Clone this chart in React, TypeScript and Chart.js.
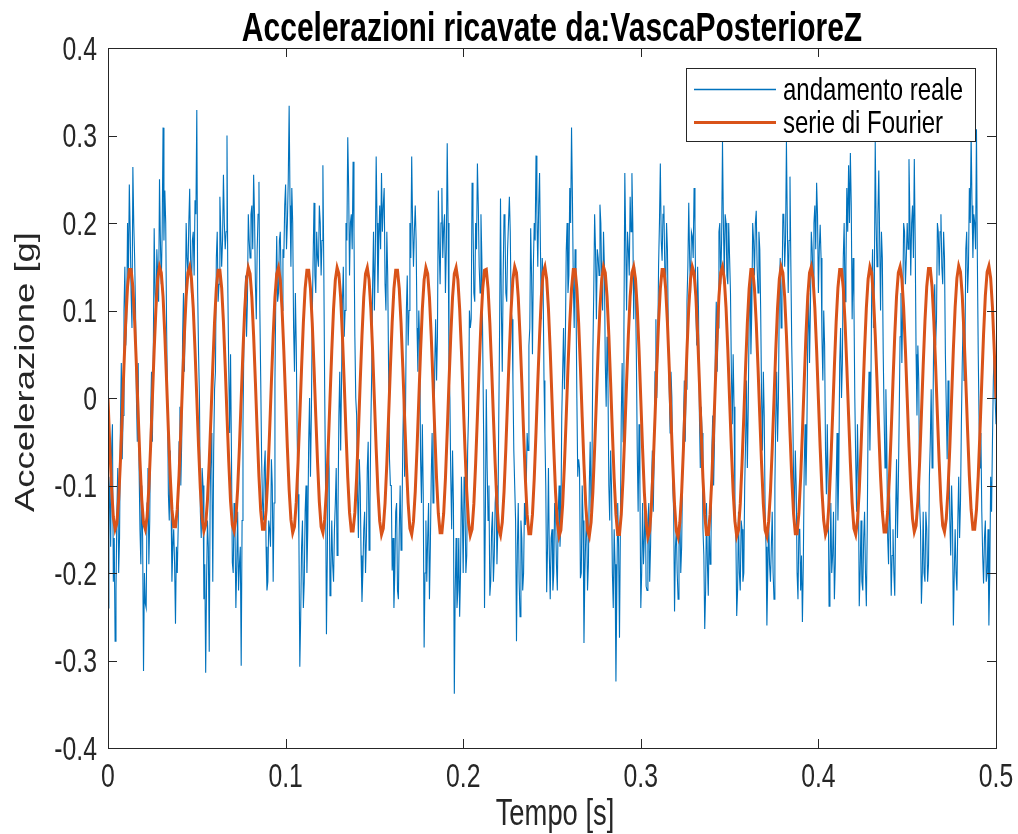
import { useEffect, useRef } from "react";
import { Chart, registerables } from "chart.js";

Chart.register(...registerables);

// ---- data ----
const TITLE = "Accelerazioni ricavate da:VascaPosterioreZ";
const X_LABEL = "Tempo [s]";
const Y_LABEL = "Accelerazione [g]";
const SERIES_NAMES = ["andamento reale", "serie di Fourier"];
const REAL_SAMPLE_PERIOD_S = 0.0005;
const FOURIER_SAMPLE_PERIOD_S = 0.001;
const X_RANGE = [0, 0.5];
const Y_RANGE = [-0.4, 0.4];
const X_STEP = 0.1;
const Y_STEP = 0.1;

// measured acceleration (blue), one value per sample
const REAL_VALUES = [
  -0.24, -0.09, -0.11, -0.17, -0.06, -0.03, -0.21, -0.16, -0.278, -0.22,
  -0.13, -0.08, -0.2, -0.16, -0.03, 0.04, -0.07, -0.02, 0.1, 0.15,
  0.06, 0.09, 0.2, 0.14, 0.244, 0.19, 0.12, 0.08, 0.264, 0.2,
  0.16, 0.1, 0.0, -0.05, 0.04, -0.08, -0.15, -0.19, -0.1, -0.16,
  -0.312, -0.2, -0.235, -0.24, -0.12, -0.08, -0.19, -0.14, -0.02, 0.03,
  -0.05, 0.05, 0.194, 0.12, 0.09, 0.17, 0.14, 0.11, 0.25, 0.18,
  0.13, 0.19, 0.309, 0.18, 0.237, 0.2, 0.08, 0.0, -0.11, -0.14,
  -0.06, -0.12, -0.21, -0.17, -0.15, -0.19, -0.258, -0.17, -0.2, -0.15,
  -0.05, -0.01, -0.1, -0.05, 0.07, 0.12, 0.03, 0.09, 0.2, 0.16,
  0.14, 0.2, 0.239, 0.16, 0.12, 0.18, 0.19, 0.14, 0.226, 0.21,
  0.329, 0.12, 0.05, 0.0, -0.13, -0.16, -0.08, -0.1, -0.23, -0.19,
  -0.314, -0.21, -0.14, -0.17, -0.29, -0.12, -0.04, -0.08, -0.21, -0.06,
  0.01, 0.03, 0.16, 0.19, 0.11, 0.13, 0.23, 0.19, 0.15, 0.18,
  0.255, 0.2, 0.17, 0.19, 0.3, 0.12, 0.03, -0.04, 0.05, -0.06,
  -0.188, -0.2, -0.12, -0.15, -0.24, -0.19, -0.13, -0.22, -0.19, -0.17,
  -0.306, -0.14, -0.03, 0.06, 0.11, 0.14, 0.07, 0.11, 0.21, 0.18,
  0.16, 0.21, 0.22, 0.17, 0.255, 0.21, 0.13, 0.09, 0.17, 0.21,
  0.247, 0.1, 0.02, -0.07, -0.12, -0.14, -0.08, -0.06, -0.17, -0.22,
  -0.21, -0.14, -0.15, -0.17, -0.07, -0.1, -0.21, -0.12, 0.02, 0.12,
  0.185, 0.11, 0.12, 0.18, 0.19, 0.13, 0.1, 0.17, 0.16, 0.22,
  0.244, 0.17, 0.2, 0.25, 0.334, 0.22, 0.15, 0.24, 0.2, 0.08,
  0.03, 0.12, 0.06, -0.04, -0.11, -0.16, -0.307, -0.25, -0.17, -0.14,
  -0.24, -0.21, -0.13, -0.1, -0.2, -0.15, -0.05, 0.0, -0.09, -0.02,
  0.09, 0.16, 0.223, 0.14, 0.12, 0.19, 0.16, 0.15, 0.22, 0.2,
  0.14, 0.18, 0.266, 0.15, 0.01, -0.1, -0.27, -0.18, -0.05, -0.08,
  -0.226, -0.2, -0.14, -0.19, -0.21, -0.15, -0.12, -0.08, -0.18, -0.13,
  -0.02, 0.03, -0.06, 0.02, 0.11, 0.15, 0.07, 0.1, 0.2, 0.18,
  0.298, 0.24, 0.14, 0.2, 0.21, 0.17, 0.27, 0.19, 0.07, 0.0,
  -0.02, -0.11, -0.16, -0.07, -0.1, -0.18, -0.233, -0.2, -0.15, -0.13,
  -0.2, -0.16, -0.08, -0.05, -0.174, -0.12, -0.03, 0.03, 0.13, 0.19,
  0.1, 0.16, 0.276, 0.2, 0.12, 0.18, 0.22, 0.17, 0.257, 0.19,
  0.22, 0.24, 0.13, 0.1, 0.19, 0.14, 0.03, -0.07, -0.1, -0.1,
  -0.197, -0.16, -0.24, -0.2, -0.13, -0.12, -0.22, -0.23, -0.15, -0.1,
  -0.174, -0.14, -0.05, 0.01, -0.09, -0.02, 0.1, 0.14, 0.06, 0.1,
  0.2, 0.16, 0.276, 0.2, 0.15, 0.19, 0.22, 0.18, 0.08, 0.03,
  0.1, 0.06, -0.07, -0.12, -0.03, -0.11, -0.285, -0.2, -0.14, -0.21,
  -0.16, -0.12, -0.23, -0.17, -0.09, -0.04, -0.12, -0.05, 0.04, 0.09,
  0.02, 0.07, 0.237, 0.17, 0.13, 0.2, 0.24, 0.16, 0.194, 0.21,
  0.12, 0.17, 0.291, 0.2, 0.03, 0.0, -0.09, -0.15, -0.06, -0.12,
  -0.338, -0.22, -0.16, -0.24, -0.22, -0.16, -0.25, -0.2, -0.09, -0.13,
  -0.2, -0.09, -0.12, -0.2, -0.18, -0.06, -0.02, 0.1, 0.08, 0.09,
  0.246, 0.21, 0.12, 0.11, 0.2, 0.17, 0.268, 0.22, 0.15, 0.12,
  0.21, 0.16, 0.06, -0.04, -0.24, -0.13, 0.01, -0.08, -0.14, -0.1,
  -0.226, -0.21, -0.15, -0.13, -0.21, -0.18, -0.12, -0.1, -0.19, -0.15,
  -0.03, 0.08, 0.228, 0.1, 0.03, 0.14, 0.21, 0.2, 0.12, 0.11,
  0.17, 0.2, 0.23, 0.19, 0.1, 0.09, 0.02, -0.06, -0.1, -0.14,
  -0.278, -0.17, -0.12, -0.21, -0.25, -0.14, -0.16, -0.22, -0.2, -0.12,
  -0.145, -0.1, -0.04, -0.06, 0.06, 0.08, 0.194, 0.14, 0.05, 0.15,
  0.2, 0.18, 0.277, 0.21, 0.15, 0.22, 0.257, 0.17, 0.09, 0.16,
  0.13, 0.02, -0.04, -0.1, -0.222, -0.17, -0.08, -0.18, -0.23, -0.16,
  -0.15, -0.22, -0.2, -0.12, -0.13, -0.19, -0.22, -0.13, -0.1, -0.17,
  -0.14, -0.02, 0.03, 0.08, 0.01, 0.06, 0.167, 0.2, 0.12, 0.14,
  0.24, 0.2, 0.309, 0.23, 0.13, 0.08, 0.17, 0.12, 0.0, -0.09,
  -0.07, -0.08, -0.206, -0.2, -0.1, -0.14, -0.28, -0.2, -0.16, -0.13,
  -0.22, -0.19, -0.1, -0.05, -0.13, -0.08, 0.05, 0.12, 0.21, 0.17,
  0.09, 0.17, 0.16, 0.14, 0.221, 0.2, 0.13, 0.1, 0.19, 0.15,
  0.04, -0.01, 0.07, 0.02, -0.1, -0.14, -0.06, -0.1, -0.2, -0.24,
  -0.15, -0.19, -0.324, -0.22, -0.12, -0.17, -0.274, -0.15, -0.02, 0.04,
  -0.05, 0.08, 0.257, 0.18, 0.1, 0.19, 0.17, 0.14, 0.23, 0.19,
  0.257, 0.2, 0.09, 0.15, 0.12, 0.05, -0.06, -0.13, -0.03, -0.1,
  -0.24, -0.2, -0.12, -0.19, -0.16, -0.11, -0.215, -0.22, -0.14, -0.12,
  -0.21, -0.17, -0.1, -0.06, -0.13, -0.07, 0.03, 0.09, 0.0, 0.05,
  0.15, 0.2, 0.268, 0.18, 0.157, 0.21, 0.22, 0.15, 0.12, 0.2,
  0.17, 0.07, 0.01, -0.04, 0.03, 0.0, -0.1, -0.13, -0.244, -0.17,
  -0.15, -0.2, -0.23, -0.17, -0.13, -0.2, -0.17, -0.09, -0.03, 0.02,
  -0.05, 0.01, 0.11, 0.15, 0.223, 0.16, 0.12, 0.19, 0.185, 0.16,
  0.24, 0.2, 0.1, 0.06, 0.15, 0.1, -0.02, -0.08, -0.01, -0.04,
  -0.15, -0.18, -0.264, -0.22, -0.12, -0.19, -0.226, -0.14, -0.19, -0.17,
  -0.06, -0.02, -0.1, -0.05, 0.06, 0.11, 0.03, 0.08, 0.19, 0.2,
  0.13, 0.18, 0.293, 0.2, 0.14, 0.21, 0.2, 0.14, 0.13, 0.2,
  0.16, 0.12, 0.03, -0.03, 0.05, -0.01, -0.12, -0.15, -0.249, -0.22,
  -0.13, -0.2, -0.22, -0.14, -0.15, -0.21, -0.2, -0.1, -0.05, 0.02,
  -0.08, -0.01, 0.09, 0.14, 0.05, 0.1, 0.2, 0.18, 0.14, 0.2,
  0.214, 0.15, 0.12, 0.19, 0.17, 0.1, 0.0, -0.06, 0.03, -0.02,
  -0.13, -0.17, -0.26, -0.2, -0.14, -0.19, -0.21, -0.17, -0.13, -0.2,
  -0.23, -0.1, -0.02, 0.03, -0.05, 0.0, 0.12, 0.16, 0.08, 0.12,
  0.21, 0.21, 0.15, 0.18, 0.293, 0.2, 0.12, 0.18, 0.253, 0.15,
  0.06, 0.0, -0.09, -0.14, -0.06, -0.1, -0.2, -0.23, -0.15, -0.15,
  -0.22, -0.18, -0.256, -0.19, -0.08, -0.03, -0.1, -0.04, 0.07, 0.12,
  0.04, 0.1, 0.19, 0.17, 0.13, 0.2, 0.22, 0.17, 0.246, 0.21,
  0.12, 0.17, 0.198, 0.16, 0.07, 0.02, 0.1, 0.06, -0.06, -0.11,
  -0.03, -0.1, -0.238, -0.2, -0.12, -0.2, -0.18, -0.13, -0.23, -0.19,
  -0.1, -0.04, -0.14, -0.08, 0.04, 0.08, 0.0, 0.04, 0.16, 0.2,
  0.11, 0.15, 0.24, 0.19, 0.266, 0.2, 0.28, 0.22, 0.09, 0.16,
  0.11, 0.0, -0.07, -0.13, -0.03, -0.09, -0.238, -0.2, -0.14, -0.21,
  -0.22, -0.16, -0.13, -0.2, -0.238, -0.15, -0.02, 0.03, -0.06, 0.0,
  0.12, 0.17, 0.08, 0.13, 0.293, 0.2, 0.15, 0.21, 0.26, 0.18,
  0.1, 0.19, 0.16, 0.05, -0.02, -0.08, 0.01, -0.05, -0.16, -0.19,
  -0.1, -0.15, -0.226, -0.18, -0.15, -0.2, -0.226, -0.13, -0.07, -0.16,
  -0.1, -0.02, 0.07, 0.12, 0.04, 0.11, 0.2, 0.19, 0.13, 0.16,
  0.2, 0.17, 0.273, 0.21, 0.14, 0.2, 0.22, 0.16, 0.273, 0.18,
  0.05, -0.02, 0.06, 0.02, -0.12, -0.15, -0.235, -0.2, -0.13, -0.2,
  -0.21, -0.13, -0.15, -0.21, -0.19, -0.09, -0.05, 0.01, -0.08, -0.02,
  0.09, 0.13, 0.06, 0.09, 0.2, 0.19, 0.14, 0.19, 0.21, 0.15,
  0.13, 0.19, 0.16, 0.05, -0.01, -0.07, 0.02, -0.03, -0.14, -0.18,
  -0.1, -0.14, -0.26, -0.2, -0.15, -0.2, -0.22, -0.14, -0.09, -0.16,
  -0.12, -0.03, 0.04, 0.09, 0.02, 0.05, 0.17, 0.19, 0.12, 0.15,
  0.24, 0.2, 0.302, 0.22, 0.16, 0.21, 0.2, 0.17, 0.307, 0.16,
  0.05, -0.03, -0.08, -0.04, -0.13, -0.18, -0.212, -0.16, -0.14, -0.21,
  -0.2, -0.15, -0.26, -0.2, -0.09, -0.13, -0.05, 0.02, 0.06, 0.0,
  -0.03,
];

// Fourier series reconstruction (orange), one value per sample
const FOURIER_VALUES = [
  0, -0.055, -0.103, -0.136, -0.15, -0.143, -0.116, -0.072, -0.019, 0.037,
  0.088, 0.127, 0.147, 0.147, 0.127, 0.088, 0.037, -0.019, -0.072, -0.116,
  -0.143, -0.15, -0.136, -0.103, -0.055, 0, 0.055, 0.103, 0.136, 0.15,
  0.143, 0.116, 0.072, 0.019, -0.037, -0.088, -0.127, -0.147, -0.147, -0.127,
  -0.088, -0.037, 0.019, 0.072, 0.116, 0.143, 0.15, 0.136, 0.103, 0.055,
  0, -0.056, -0.104, -0.138, -0.152, -0.145, -0.117, -0.073, -0.02, 0.036,
  0.087, 0.126, 0.146, 0.146, 0.126, 0.087, 0.036, -0.02, -0.073, -0.118,
  -0.145, -0.152, -0.138, -0.104, -0.056, -0.001, 0.054, 0.102, 0.135, 0.149,
  0.142, 0.115, 0.071, 0.018, -0.038, -0.09, -0.129, -0.15, -0.15, -0.129,
  -0.09, -0.038, 0.018, 0.071, 0.115, 0.142, 0.149, 0.135, 0.102, 0.054,
  -0.001, -0.057, -0.105, -0.139, -0.154, -0.147, -0.119, -0.074, -0.021, 0.035,
  0.086, 0.125, 0.146, 0.146, 0.125, 0.086, 0.035, -0.021, -0.074, -0.119,
  -0.147, -0.154, -0.139, -0.105, -0.057, -0.001, 0.054, 0.102, 0.135, 0.149,
  0.142, 0.115, 0.071, 0.018, -0.039, -0.091, -0.131, -0.152, -0.152, -0.131,
  -0.091, -0.039, 0.018, 0.071, 0.115, 0.142, 0.149, 0.135, 0.102, 0.054,
  -0.002, -0.058, -0.107, -0.141, -0.156, -0.149, -0.12, -0.075, -0.021, 0.035,
  0.086, 0.125, 0.146, 0.146, 0.125, 0.086, 0.035, -0.021, -0.075, -0.12,
  -0.149, -0.156, -0.141, -0.107, -0.058, -0.002, 0.054, 0.102, 0.135, 0.149,
  0.142, 0.115, 0.071, 0.018, -0.039, -0.092, -0.132, -0.154, -0.154, -0.132,
  -0.092, -0.039, 0.018, 0.071, 0.115, 0.142, 0.149, 0.135, 0.102, 0.054,
  -0.002, -0.058, -0.107, -0.142, -0.157, -0.15, -0.121, -0.075, -0.021, 0.035,
  0.086, 0.125, 0.146, 0.147, 0.125, 0.086, 0.035, -0.021, -0.075, -0.121,
  -0.15, -0.157, -0.142, -0.107, -0.058, -0.002, 0.054, 0.102, 0.136, 0.15,
  0.143, 0.115, 0.071, 0.018, -0.039, -0.092, -0.133, -0.155, -0.155, -0.133,
  -0.092, -0.039, 0.018, 0.071, 0.116, 0.143, 0.15, 0.136, 0.102, 0.054,
  -0.002, -0.058, -0.108, -0.142, -0.158, -0.151, -0.122, -0.076, -0.022, 0.035,
  0.086, 0.125, 0.147, 0.147, 0.125, 0.086, 0.035, -0.022, -0.076, -0.122,
  -0.151, -0.158, -0.142, -0.108, -0.058, -0.002, 0.055, 0.103, 0.136, 0.15,
  0.143, 0.116, 0.072, 0.018, -0.039, -0.092, -0.133, -0.156, -0.156, -0.133,
  -0.092, -0.039, 0.018, 0.072, 0.116, 0.143, 0.15, 0.136, 0.103, 0.055,
  -0.002, -0.058, -0.108, -0.142, -0.159, -0.152, -0.122, -0.076, -0.022, 0.035,
  0.086, 0.125, 0.147, 0.147, 0.125, 0.086, 0.035, -0.022, -0.076, -0.122,
  -0.152, -0.159, -0.142, -0.108, -0.058, -0.002, 0.055, 0.103, 0.136, 0.15,
  0.143, 0.116, 0.072, 0.018, -0.039, -0.092, -0.133, -0.156, -0.156, -0.133,
  -0.092, -0.039, 0.018, 0.072, 0.116, 0.143, 0.15, 0.136, 0.103, 0.055,
  -0.002, -0.058, -0.107, -0.141, -0.158, -0.151, -0.121, -0.075, -0.021, 0.035,
  0.086, 0.125, 0.147, 0.147, 0.125, 0.086, 0.035, -0.021, -0.075, -0.121,
  -0.151, -0.158, -0.141, -0.107, -0.058, -0.002, 0.055, 0.103, 0.136, 0.15,
  0.143, 0.116, 0.072, 0.018, -0.039, -0.091, -0.132, -0.155, -0.155, -0.132,
  -0.091, -0.039, 0.018, 0.072, 0.116, 0.143, 0.15, 0.136, 0.103, 0.055,
  -0.001, -0.057, -0.106, -0.14, -0.156, -0.149, -0.12, -0.074, -0.02, 0.036,
  0.087, 0.126, 0.147, 0.147, 0.126, 0.087, 0.036, -0.02, -0.074, -0.12,
  -0.149, -0.156, -0.14, -0.106, -0.057, -0.001, 0.055, 0.103, 0.136, 0.15,
  0.143, 0.116, 0.072, 0.019, -0.038, -0.09, -0.13, -0.153, -0.153, -0.13,
  -0.09, -0.038, 0.019, 0.072, 0.116, 0.143, 0.15, 0.136, 0.103, 0.055,
  0, -0.056, -0.104, -0.138, -0.153, -0.146, -0.118, -0.073, -0.019, 0.037,
  0.088, 0.127, 0.148, 0.148, 0.127, 0.088, 0.037, -0.019, -0.073, -0.118,
  -0.146, -0.153, -0.138, -0.104, -0.056, 0, 0.056, 0.104, 0.137, 0.151,
  0.144, 0.117, 0.073, 0.019, -0.037, -0.089, -0.128, -0.15, -0.15, -0.128,
  -0.089, -0.037, 0.019, 0.073, 0.117, 0.144, 0.151, 0.137, 0.104, 0.056,
  0,
];

// ---- styling ----
const FONT = '"Liberation Sans", Arial, Helvetica, sans-serif';
const AXIS_COLOR = "#262626";
const BLUE = "#0072BD";
const ORANGE = "#D95319";
const SQUEEZE = 0.75; // horizontal squeeze of the glyphs in the reference picture
const TICK_SIZE = 33;
const LABEL_SIZE = 36.5;
const TITLE_SIZE = 40;
const LEGEND_SIZE = 32;

const fmt = (v: number) => {
  const r = Math.round(v * 10) / 10;
  return r === 0 ? "0" : String(r);
};

function squeezedText(
  ctx: CanvasRenderingContext2D,
  text: string,
  x: number,
  y: number,
  font: string,
  color: string,
  align: CanvasTextAlign,
  rotate = false
) {
  ctx.save();
  ctx.translate(x, y);
  if (rotate) {
    ctx.rotate(-Math.PI / 2);
    ctx.scale(1, SQUEEZE);
  } else {
    ctx.scale(SQUEEZE, 1);
  }
  ctx.font = font;
  ctx.fillStyle = color;
  ctx.textAlign = align;
  ctx.textBaseline = "alphabetic";
  ctx.fillText(text, 0, 0);
  ctx.restore();
}

const matlabAxesPlugin = {
  id: "matlabAxes",
  afterDatasetsDraw(chart: any) {
    const { ctx, chartArea } = chart;
    const { left, right, top, bottom } = chartArea;
    const xs = chart.scales.x;
    const ys = chart.scales.y;
    const tl = 9;
    ctx.save();
    ctx.strokeStyle = AXIS_COLOR;
    ctx.lineWidth = 1;
    ctx.beginPath();
    xs.ticks.forEach((t: any) => {
      const px = Math.round(xs.getPixelForValue(t.value)) + 0.5;
      ctx.moveTo(px, bottom);
      ctx.lineTo(px, bottom - tl);
      ctx.moveTo(px, top);
      ctx.lineTo(px, top + tl);
    });
    ys.ticks.forEach((t: any) => {
      const py = Math.round(ys.getPixelForValue(t.value)) + 0.5;
      ctx.moveTo(left, py);
      ctx.lineTo(left + tl, py);
      ctx.moveTo(right, py);
      ctx.lineTo(right - tl, py);
    });
    ctx.stroke();
    ctx.strokeRect(Math.round(left) + 0.5, Math.round(top) + 0.5, Math.round(right - left), Math.round(bottom - top));

    // legend box (top-right, inside axes)
    const lx = 686.5, ly = 68.5, lw = 289, lh = 73;
    ctx.fillStyle = "#ffffff";
    ctx.fillRect(lx, ly, lw, lh);
    ctx.strokeStyle = AXIS_COLOR;
    ctx.strokeRect(lx, ly, lw, lh);
    const ds = chart.data.datasets;
    const rows = [89.5, 122.5];
    ds.forEach((d: any, i: number) => {
      ctx.strokeStyle = d.borderColor;
      ctx.lineWidth = i === 0 ? 1.3 : d.borderWidth;
      ctx.beginPath();
      ctx.moveTo(694, rows[i]);
      ctx.lineTo(776, rows[i]);
      ctx.stroke();
      squeezedText(ctx, d.label, 783, rows[i] + 10, `${LEGEND_SIZE}px ${FONT}`, "#000000", "left");
    });

    // tick labels
    const tickFont = `${TICK_SIZE}px ${FONT}`;
    xs.ticks.forEach((t: any) => {
      const px = xs.getPixelForValue(t.value);
      squeezedText(ctx, fmt(t.value), px, bottom + 39, tickFont, AXIS_COLOR, "center");
    });
    ys.ticks.forEach((t: any) => {
      const py = ys.getPixelForValue(t.value);
      squeezedText(ctx, fmt(t.value), left - 11, py + 11.5, tickFont, AXIS_COLOR, "right");
    });

    // axis titles and chart title
    const labelFont = `${LABEL_SIZE}px ${FONT}`;
    squeezedText(ctx, X_LABEL, (left + right) / 2 + 3, 825, labelFont, AXIS_COLOR, "center");
    squeezedText(ctx, Y_LABEL, 34, (top + bottom) / 2 - 26, labelFont, AXIS_COLOR, "center", true);
    squeezedText(ctx, TITLE, (left + right) / 2, 41, `bold ${TITLE_SIZE}px ${FONT}`, "#000000", "center");
    ctx.restore();
  },
};

export default function App() {
  const ref = useRef<HTMLCanvasElement | null>(null);

  useEffect(() => {
    if (!ref.current) return;
    const realPts = REAL_VALUES.map((v, i) => ({ x: i * REAL_SAMPLE_PERIOD_S, y: v }));
    const fourierPts = FOURIER_VALUES.map((v, i) => ({ x: i * FOURIER_SAMPLE_PERIOD_S, y: v }));
    const chart = new Chart(ref.current, {
      type: "line",
      data: {
        datasets: [
          {
            label: SERIES_NAMES[0],
            data: realPts,
            borderColor: BLUE,
            borderWidth: 1.1,
            pointRadius: 0,
            tension: 0,
            order: 2,
          },
          {
            label: SERIES_NAMES[1],
            data: fourierPts,
            borderColor: ORANGE,
            borderWidth: 3,
            pointRadius: 0,
            tension: 0,
            order: 1,
          },
        ],
      },
      options: {
        animation: false,
        responsive: false,
        events: [],
        layout: { padding: { left: 0, right: 22, top: 48, bottom: 0 } },
        plugins: {
          legend: { display: false },
          tooltip: { enabled: false },
          title: { display: false },
        },
        scales: {
          x: {
            type: "linear",
            min: X_RANGE[0],
            max: X_RANGE[1],
            grid: { display: false, drawTicks: false },
            border: { display: false },
            ticks: { stepSize: X_STEP, display: false },
            title: { display: false },
            afterFit: (s: any) => {
              s.height = 86;
              s.paddingLeft = 0;
              s.paddingRight = 0;
            },
          },
          y: {
            type: "linear",
            min: Y_RANGE[0],
            max: Y_RANGE[1],
            grid: { display: false, drawTicks: false },
            border: { display: false },
            ticks: { stepSize: Y_STEP, display: false },
            title: { display: false },
            afterFit: (s: any) => {
              s.width = 108;
              s.paddingTop = 0;
              s.paddingBottom = 0;
            },
          },
        },
      },
      plugins: [matlabAxesPlugin],
    });
    return () => chart.destroy();
  }, []);

  return (
    <div style={{ position: "fixed", left: 0, top: 0, width: 1018, height: 834, background: "#fff" }}>
      <canvas ref={ref} width={1018} height={834} style={{ display: "block" }} />
    </div>
  );
}
